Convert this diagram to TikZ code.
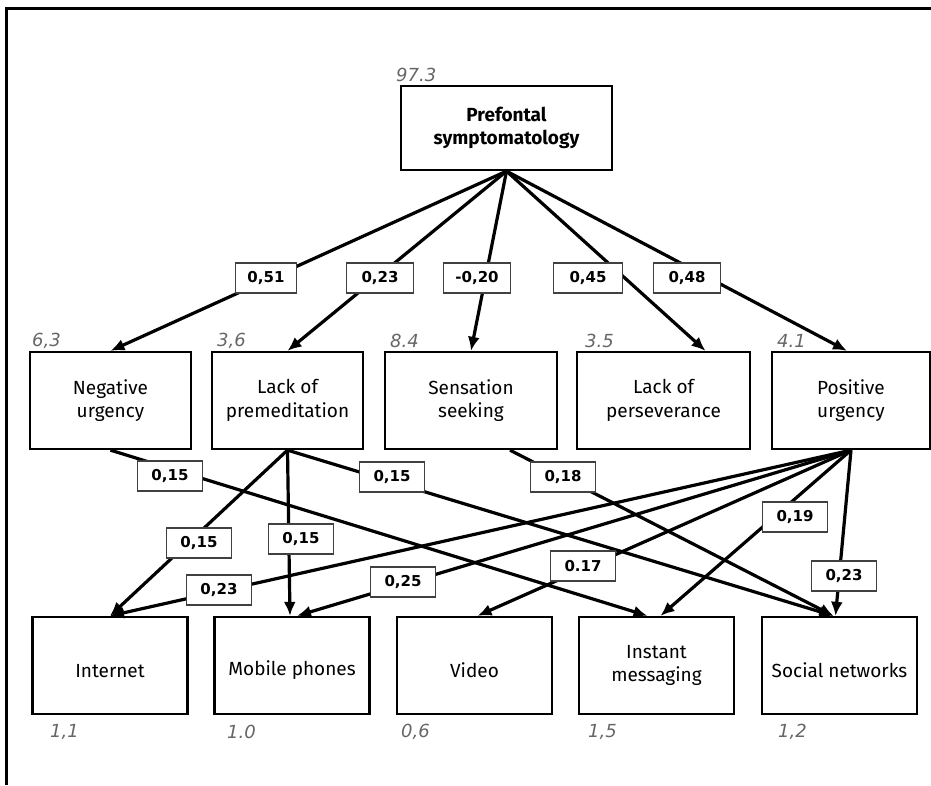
\documentclass[tikz,border=0pt]{standalone}
\usepackage{fontspec}
\setmainfont{Fira Sans}
\newfontfamily\coeffont{DejaVu Sans}
\usetikzlibrary{arrows.meta}

\begin{document}
\begin{tikzpicture}[
    x=1pt, y=-1pt,
    font=\fontsize{19}{23.5}\selectfont,
    var/.style={draw, line width=2.3pt, minimum width=155pt, minimum height=97pt,
                align=center, inner sep=2pt},
    tech/.style={var, execute at begin node={\rule{0pt}{24pt}}},
    eff/.style={-{Latex[length=14pt,width=12pt]}, line width=3.2pt},
    coef/.style={draw=black!75, line width=1.3pt, fill=white, minimum width=65pt,
                 minimum height=30pt, inner sep=1pt,
                 font=\coeffont\bfseries\fontsize{15}{17}\selectfont},
    rsq/.style={anchor=west, inner sep=0pt, text=black!60,
                font=\coeffont\itshape\fontsize{18}{20}\selectfont},
  ]
  \useasboundingbox (0,0) rectangle (931,785);

  % ---------- frame ----------
  \draw[line width=3pt] (931,8) -- (6,8) -- (6,785);

  % ---------- variables ----------
  \node[var, minimum width=211pt, minimum height=84pt,
        font=\bfseries\fontsize{19}{23.5}\selectfont] (pfs) at (506.5,128) {Prefontal\\symptomatology};

  \node[var, minimum width=161pt] (nu)  at (110.5,400.5) {Negative\\urgency};
  \node[var, minimum width=151pt] (lop) at (287.5,400.5) {Lack of\\premeditation};
  \node[var, minimum width=172pt] (ss)  at (471,400.5)   {Sensation\\seeking};
  \node[var, minimum width=173pt] (lpe) at (663.5,400.5) {Lack of\\perseverance};
  \node[var, minimum width=158pt] (pu)  at (851,400.5)   {Positive\\urgency};

  \node[tech] (inet) at (110,665.5)   {Internet};
  \node[tech] (mob)  at (292,665.5)   {Mobile phones};
  \node[tech] (vid)  at (474.5,665.5) {Video};
  \node[tech] (im)   at (656.5,665.5) {Instant\\messaging};
  \node[tech] (sn)   at (839.5,665.5) {Social networks};

  % ---------- explained variance ----------
  \node[rsq] (r0) at (396,75)  {97.3};
  \node[rsq] (r1) at (32,341)  {6,3};
  \node[rsq] (r2) at (217,341) {3,6};
  \node[rsq] (r3) at (390,341) {8.4};
  \node[rsq] (r4) at (585,341) {3.5};
  \node[rsq] (r5) at (777,341) {4.1};
  \node[rsq] (r6) at (50,732)  {1,1};
  \node[rsq] (r7) at (227,732) {1.0};
  \node[rsq] (r8) at (401,732) {0,6};
  \node[rsq] (r9) at (588,732) {1,5};
  \node[rsq] (r10) at (778,732) {1,2};

  % ---------- paths from prefrontal symptomatology ----------
  \draw[eff] (pfs.south) -- (nu.north);
  \draw[eff] (pfs.south) -- (lop.north);
  \draw[eff] (pfs.south) -- (ss.north);
  \draw[eff] (pfs.south) -- ([xshift=42pt]lpe.north);
  \draw[eff] (pfs.south) -- ([xshift=-4pt]pu.north);

  % ---------- paths to technologies ----------
  \draw[eff] (nu.south) -- ([xshift=-9pt]im.north);
  \draw[eff] (lop.south) -- (inet.north);
  \draw[eff] (lop.south) -- ([xshift=-2pt]mob.north);
  \draw[eff] (lop.south) -- ([xshift=-6pt]sn.north);
  \draw[eff] ([xshift=39pt]ss.south) -- ([xshift=-6pt]sn.north);
  \draw[eff] (pu.south) -- (inet.north);
  \draw[eff] (pu.south) -- ([xshift=5pt]mob.north);
  \draw[eff] (pu.south) -- ([xshift=3pt]vid.north);
  \draw[eff] (pu.south) -- ([xshift=4pt]im.north);
  \draw[eff] (pu.south) -- ([xshift=-4pt]sn.north);

  % ---------- coefficients ----------
  \node[coef, minimum width=61pt] (c1) at (266,278) {0,51};
  \node[coef, minimum width=67pt] (c2) at (380,278) {0,23};
  \node[coef, minimum width=67pt] (c3) at (477,278) {-0,20};
  \node[coef, minimum width=69pt] (c4) at (588,278) {0,45};
  \node[coef, minimum width=67pt] (c5) at (687,278) {0,48};

  \node[coef] (c6)  at (170,476) {0,15};
  \node[coef] (c7)  at (392,477) {0,15};
  \node[coef] (c8)  at (199,543) {0,15};
  \node[coef] (c9)  at (301,539) {0,15};
  \node[coef] (c10) at (219,590) {0,23};
  \node[coef] (c11) at (403,582) {0,25};
  \node[coef] (c12) at (563,477) {0,18};
  \node[coef] (c13) at (795,517) {0,19};
  \node[coef] (c14) at (583,566) {0.17};
  \node[coef] (c15) at (844,576) {0,23};

\end{tikzpicture}
\end{document}
